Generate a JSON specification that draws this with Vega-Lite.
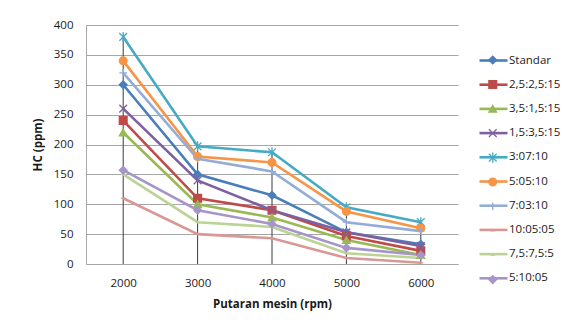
{
  "$schema": "https://vega.github.io/schema/vega-lite/v6.json",
  "width": 372,
  "height": 239,
  "autosize": {"type": "none"},
  "padding": {"left": 86, "top": 25, "right": 118, "bottom": 57},
  "background": "white",
  "config": {
    "font": "Open Sans",
    "view": {"stroke": null},
    "axis": {
      "labelFont": "Open Sans",
      "labelFontSize": 11.5,
      "labelColor": "#1a1a1a",
      "titleFont": "Open Sans",
      "titleFontSize": 11.5,
      "titleFontWeight": "bold",
      "titleColor": "#1a1a1a",
      "gridColor": "#a6a6a6",
      "gridWidth": 1,
      "domainColor": "#a6a6a6",
      "domainWidth": 1
    }
  },
  "data": {
    "values": [
      {"series": "Standar", "rpm": 2000, "hc": 300},
      {"series": "Standar", "rpm": 3000, "hc": 150},
      {"series": "Standar", "rpm": 4000, "hc": 115},
      {"series": "Standar", "rpm": 5000, "hc": 53},
      {"series": "Standar", "rpm": 6000, "hc": 33},
      {"series": "2,5:2,5:15", "rpm": 2000, "hc": 240},
      {"series": "2,5:2,5:15", "rpm": 3000, "hc": 110},
      {"series": "2,5:2,5:15", "rpm": 4000, "hc": 90},
      {"series": "2,5:2,5:15", "rpm": 5000, "hc": 47},
      {"series": "2,5:2,5:15", "rpm": 6000, "hc": 22},
      {"series": "3,5:1,5:15", "rpm": 2000, "hc": 220},
      {"series": "3,5:1,5:15", "rpm": 3000, "hc": 100},
      {"series": "3,5:1,5:15", "rpm": 4000, "hc": 78},
      {"series": "3,5:1,5:15", "rpm": 5000, "hc": 40},
      {"series": "3,5:1,5:15", "rpm": 6000, "hc": 15},
      {"series": "1,5:3,5:15", "rpm": 2000, "hc": 260},
      {"series": "1,5:3,5:15", "rpm": 3000, "hc": 140},
      {"series": "1,5:3,5:15", "rpm": 4000, "hc": 90},
      {"series": "1,5:3,5:15", "rpm": 5000, "hc": 53},
      {"series": "1,5:3,5:15", "rpm": 6000, "hc": 30},
      {"series": "3:07:10", "rpm": 2000, "hc": 380},
      {"series": "3:07:10", "rpm": 3000, "hc": 197},
      {"series": "3:07:10", "rpm": 4000, "hc": 187},
      {"series": "3:07:10", "rpm": 5000, "hc": 95},
      {"series": "3:07:10", "rpm": 6000, "hc": 70},
      {"series": "5:05:10", "rpm": 2000, "hc": 340},
      {"series": "5:05:10", "rpm": 3000, "hc": 180},
      {"series": "5:05:10", "rpm": 4000, "hc": 170},
      {"series": "5:05:10", "rpm": 5000, "hc": 88},
      {"series": "5:05:10", "rpm": 6000, "hc": 60},
      {"series": "7:03:10", "rpm": 2000, "hc": 320},
      {"series": "7:03:10", "rpm": 3000, "hc": 176},
      {"series": "7:03:10", "rpm": 4000, "hc": 155},
      {"series": "7:03:10", "rpm": 5000, "hc": 70},
      {"series": "7:03:10", "rpm": 6000, "hc": 55},
      {"series": "10:05:05", "rpm": 2000, "hc": 110},
      {"series": "10:05:05", "rpm": 3000, "hc": 50},
      {"series": "10:05:05", "rpm": 4000, "hc": 43},
      {"series": "10:05:05", "rpm": 5000, "hc": 10},
      {"series": "10:05:05", "rpm": 6000, "hc": 2},
      {"series": "7,5:7,5:5", "rpm": 2000, "hc": 150},
      {"series": "7,5:7,5:5", "rpm": 3000, "hc": 70},
      {"series": "7,5:7,5:5", "rpm": 4000, "hc": 62},
      {"series": "7,5:7,5:5", "rpm": 5000, "hc": 18},
      {"series": "7,5:7,5:5", "rpm": 6000, "hc": 10},
      {"series": "5:10:05", "rpm": 2000, "hc": 157},
      {"series": "5:10:05", "rpm": 3000, "hc": 90},
      {"series": "5:10:05", "rpm": 4000, "hc": 67},
      {"series": "5:10:05", "rpm": 5000, "hc": 27},
      {"series": "5:10:05", "rpm": 6000, "hc": 15}
    ]
  },
  "encoding": {
    "x": {
      "field": "rpm",
      "type": "ordinal",
      "scale": {"type": "point", "padding": 0.5},
      "axis": {"title": "Putaran mesin (rpm)", "labelAngle": 0, "ticks": false, "labelPadding": 13, "titlePadding": 10, "grid": false}
    },
    "y": {
      "field": "hc",
      "type": "quantitative",
      "scale": {"domain": [0, 400]},
      "axis": {"title": "HC (ppm)", "values": [0, 50, 100, 150, 200, 250, 300, 350, 400], "ticks": false, "labelPadding": 13, "titlePadding": 10}
    }
  },
  "layer": [
    {
      "transform": [{"aggregate": [{"op": "max", "field": "hc", "as": "top"}], "groupby": ["rpm"]}],
      "mark": {"type": "rule", "color": "#3a3a3a", "strokeWidth": 1},
      "encoding": {
        "y": {"field": "top", "type": "quantitative"},
        "y2": {"datum": 0}
      }
    },
    {
      "mark": {"type": "line", "strokeWidth": 2.6},
      "encoding": {
        "color": {
          "field": "series",
          "type": "nominal",
          "scale": {
            "domain": ["Standar", "2,5:2,5:15", "3,5:1,5:15", "1,5:3,5:15", "3:07:10", "5:05:10", "7:03:10", "10:05:05", "7,5:7,5:5", "5:10:05"],
            "range": ["#4A7EBB", "#BE4B48", "#98B954", "#7D60A0", "#46AAC5", "#F69546", "#93ADD8", "#D99795", "#BBD395", "#A696C8"]
          },
          "legend": {
            "orient": "none", "legendX": 392, "legendY": 20, "title": null, "padding": 0, "gridAlign": "all",
            "symbolType": "M-1,0L1,0", "symbolSize": 784, "symbolStrokeWidth": 2.6,
            "labelFontSize": 11.5, "labelColor": "#1a1a1a", "labelOffset": 0, "rowPadding": 3.2
          }
        }
      }
    },
    {
      "mark": {"type": "point", "filled": true, "size": 60, "strokeWidth": 1.3, "opacity": 1},
      "encoding": {
        "fill": {
          "field": "series", "type": "nominal", "sort": null,
          "scale": {"range": ["#4A7EBB", "#BE4B48", "#98B954", "#7D60A0", "#46AAC5", "#F69546", "#93ADD8", "#D99795", "#BBD395", "#A696C8"]},
          "legend": {"orient": "none", "legendX": 401, "legendY": 29.25, "title": null, "padding": 0, "gridAlign": "all", "symbolSize": 60, "symbolStrokeWidth": 1.3, "labelFontSize": 11.5, "labelExpr": "''", "rowPadding": 8.4}
        },
        "stroke": {
          "field": "series", "type": "nominal", "sort": null,
          "scale": {"range": ["#4A7EBB", "#BE4B48", "#98B954", "#7D60A0", "#46AAC5", "#F69546", "#93ADD8", "#D99795", "#BBD395", "#A696C8"]},
          "legend": {"orient": "none", "legendX": 401, "legendY": 29.25, "title": null, "padding": 0, "gridAlign": "all", "symbolSize": 60, "symbolStrokeWidth": 1.3, "labelFontSize": 11.5, "labelExpr": "''", "rowPadding": 8.4}
        },
        "shape": {
          "field": "series", "type": "nominal", "sort": null,
          "scale": {"range": ["diamond", "square", "triangle-up", "M-1,-1L1,1M-1,1L1,-1", "M-1,-1L1,1M-1,1L1,-1M0,-1.3L0,1.3", "circle", "M-1,0L1,0M0,-1L0,1", "M-0.6,0L0.6,0", "M-0.6,0L0.6,0", "diamond"]},
          "legend": {"orient": "none", "legendX": 401, "legendY": 29.25, "title": null, "padding": 0, "gridAlign": "all", "symbolSize": 60, "symbolStrokeWidth": 1.3, "labelFontSize": 11.5, "labelExpr": "''", "rowPadding": 8.4}
        }
      }
    }
  ]
}
